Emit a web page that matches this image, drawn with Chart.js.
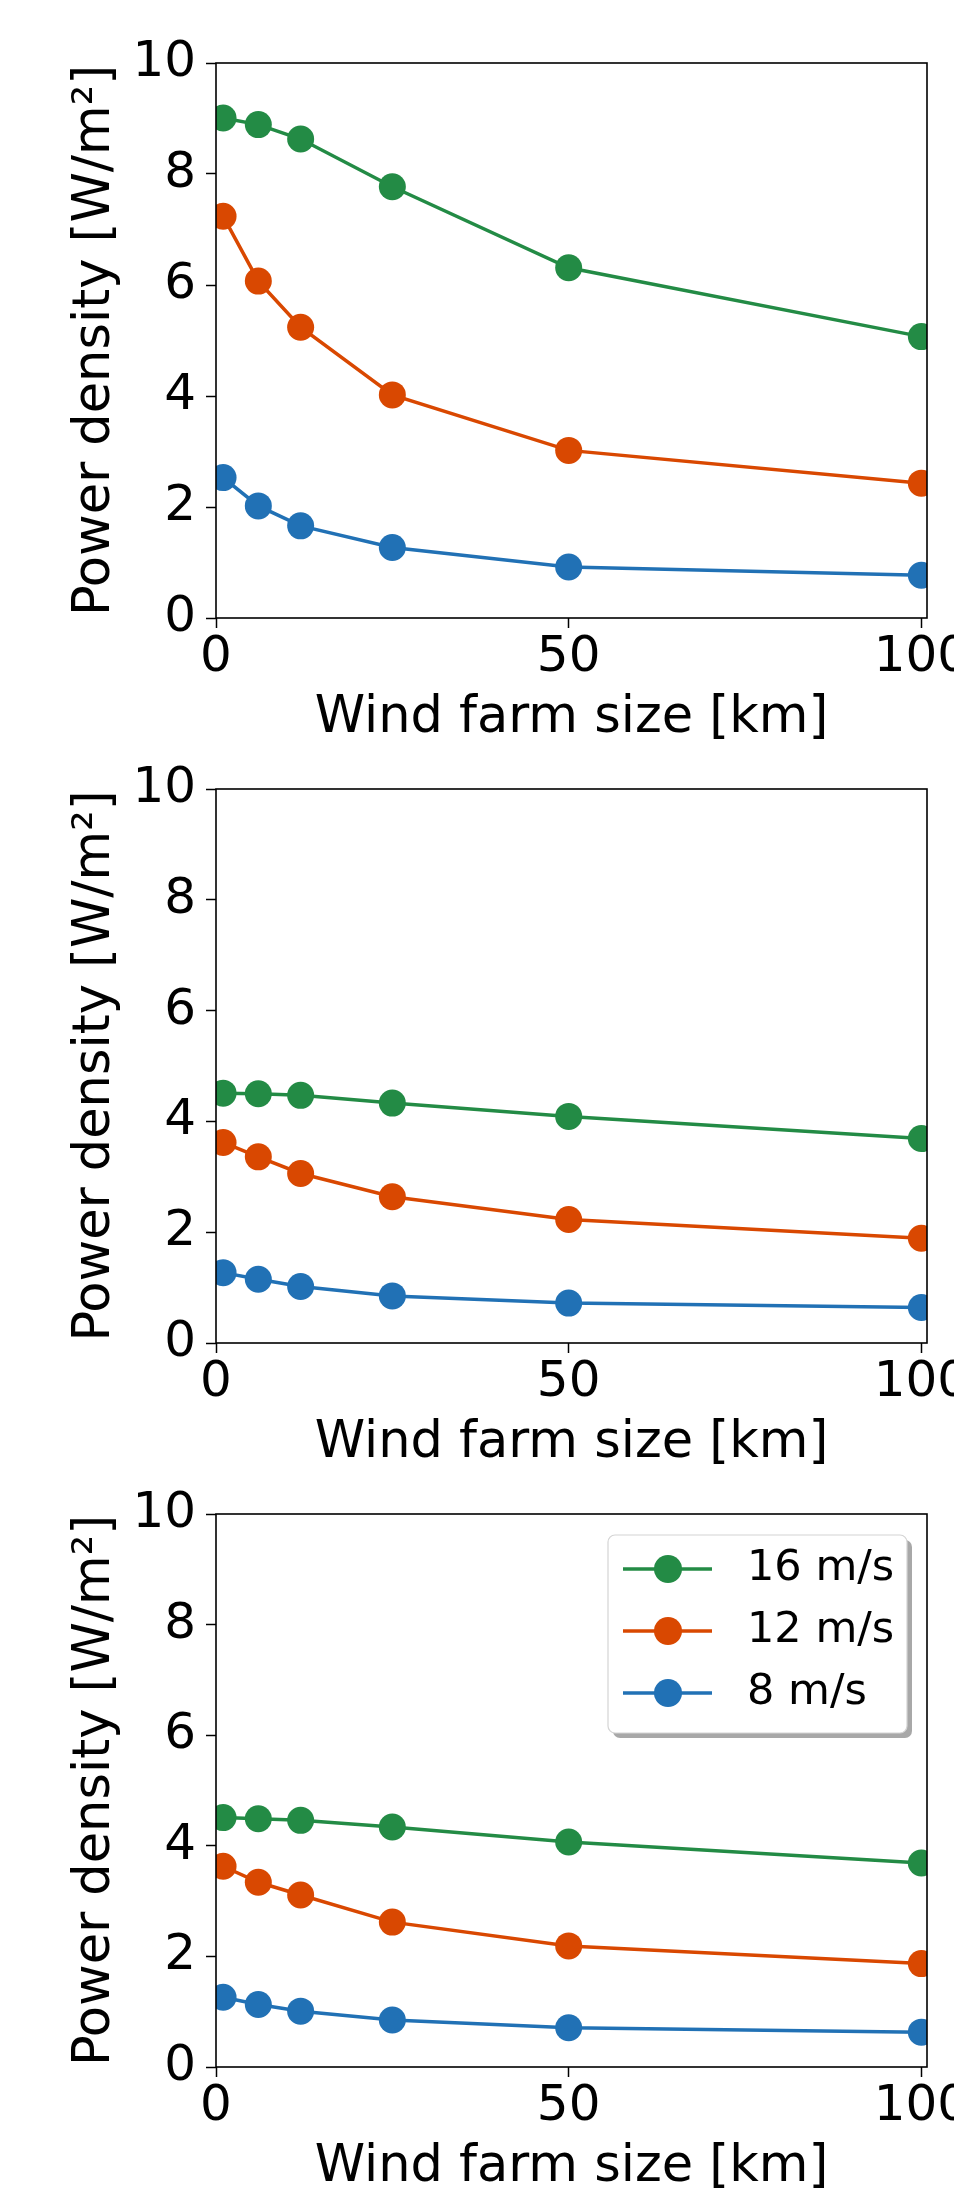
<!DOCTYPE html>
<html><head><meta charset="utf-8">
<script src="https://cdn.jsdelivr.net/npm/chart.js@4.4.0/dist/chart.umd.min.js"></script>
<style>
html,body{margin:0;padding:0;background:#fff;overflow:hidden;width:954px;height:2189px;position:relative;}
canvas{position:absolute;left:0;}
</style></head><body>
<canvas id="c1"></canvas><canvas id="c2"></canvas><canvas id="c3"></canvas>
<script>
// ---- data ----
const windFarmSize = [1, 6, 12, 25, 50, 100];
const seriesLabels = ['16 m/s', '12 m/s', '8 m/s'];
const seriesColors = ['#238b45', '#d94801', '#2171b5'];

const panel1_16 = [9.01, 8.89, 8.63, 7.77, 6.31, 5.07];
const panel1_12 = [7.24, 6.07, 5.24, 4.02, 3.02, 2.43];
const panel1_8  = [2.53, 2.02, 1.66, 1.27, 0.92, 0.77];

const panel2_16 = [4.51, 4.50, 4.47, 4.33, 4.09, 3.69];
const panel2_12 = [3.62, 3.36, 3.06, 2.64, 2.23, 1.89];
const panel2_8  = [1.27, 1.15, 1.02, 0.85, 0.72, 0.64];

const panel3_16 = [4.51, 4.49, 4.46, 4.34, 4.07, 3.69];
const panel3_12 = [3.63, 3.34, 3.11, 2.62, 2.19, 1.87];
const panel3_8  = [1.26, 1.13, 1.01, 0.85, 0.71, 0.63];

const xTicks = [0, 50, 100];
const yTicks = [0, 2, 4, 6, 8, 10];
const xAxisLabel = 'Wind farm size [km]';
const yAxisLabel = 'Power density [W/m\u00B2]';

// ---- layout ----
const FONT = 'DejaVu Sans';
const CANVAS_W = 1000;
const PAD_TOP = 63;
const X_AXIS_H = 142;
const Y_AXIS_W = 216;

const panels = [
  { id: 'c1', top: 0,    plotH: 555, series: [panel1_16, panel1_12, panel1_8], legend: false },
  { id: 'c2', top: 726,  plotH: 554, series: [panel2_16, panel2_12, panel2_8], legend: false },
  { id: 'c3', top: 1451, plotH: 553, series: [panel3_16, panel3_12, panel3_8], legend: true }
];

const framePlugin = {
  id: 'frame',
  afterDatasetsDraw(chart) {
    const { ctx, chartArea: a } = chart;
    ctx.save();
    ctx.strokeStyle = '#000';
    ctx.lineWidth = 1.6;
    ctx.strokeRect(a.left, a.top, a.right - a.left, a.bottom - a.top);
    ctx.restore();
  }
};

function roundRectPath(ctx, x, y, w, h, r) {
  ctx.beginPath();
  ctx.moveTo(x + r, y);
  ctx.lineTo(x + w - r, y);
  ctx.arcTo(x + w, y, x + w, y + r, r);
  ctx.lineTo(x + w, y + h - r);
  ctx.arcTo(x + w, y + h, x + w - r, y + h, r);
  ctx.lineTo(x + r, y + h);
  ctx.arcTo(x, y + h, x, y + h - r, r);
  ctx.lineTo(x, y + r);
  ctx.arcTo(x, y, x + r, y, r);
  ctx.closePath();
}

const boxLegendPlugin = {
  id: 'boxLegend',
  afterDraw(chart, args, opts) {
    if (!opts || !opts.show) return;
    const { ctx, chartArea: a } = chart;
    const w = 299, h = 198;
    const x = a.right - 20 - w, y = a.top + 21;
    ctx.save();
    // shadow
    ctx.fillStyle = 'rgba(110,110,110,0.6)';
    roundRectPath(ctx, x + 5, y + 5, w, h, 7);
    ctx.fill();
    // box
    ctx.fillStyle = '#fff';
    roundRectPath(ctx, x, y, w, h, 7);
    ctx.fill();
    ctx.strokeStyle = '#d4d4d4';
    ctx.lineWidth = 1.2;
    ctx.stroke();
    chart.data.datasets.forEach((ds, i) => {
      const cy = y + 34 + i * 62;
      ctx.strokeStyle = ds.borderColor;
      ctx.lineWidth = 3.5;
      ctx.beginPath();
      ctx.moveTo(x + 15, cy);
      ctx.lineTo(x + 104, cy);
      ctx.stroke();
      ctx.fillStyle = ds.backgroundColor;
      ctx.beginPath();
      ctx.arc(x + 60, cy, 14, 0, Math.PI * 2);
      ctx.fill();
      ctx.fillStyle = '#000';
      ctx.font = '43px "' + FONT + '"';
      ctx.textAlign = 'left';
      ctx.textBaseline = 'middle';
      ctx.fillText(ds.label, x + 139, cy);
    });
    ctx.restore();
  }
};

panels.forEach(p => {
  const cv = document.getElementById(p.id);
  const H = PAD_TOP + p.plotH + X_AXIS_H;
  cv.width = CANVAS_W; cv.height = H;
  cv.style.width = CANVAS_W + 'px'; cv.style.height = H + 'px';
  cv.style.top = p.top + 'px';

  const datasets = p.series.map((vals, i) => ({
    label: seriesLabels[i],
    data: windFarmSize.map((x, j) => ({ x: x, y: vals[j] })),
    borderColor: seriesColors[i],
    backgroundColor: seriesColors[i],
    pointBackgroundColor: seriesColors[i],
    pointBorderColor: seriesColors[i],
    pointBorderWidth: 0,
    pointRadius: 13.5,
    pointHoverRadius: 13.5,
    borderWidth: 3.5,
    tension: 0,
    fill: false,
    clip: 0
  }));

  new Chart(cv, {
    type: 'line',
    data: { datasets },
    plugins: [framePlugin, boxLegendPlugin],
    options: {
      responsive: false,
      animation: false,
      devicePixelRatio: 1,
      events: [],
      layout: { padding: { top: PAD_TOP, left: 0, right: CANVAS_W - 927, bottom: 0 } },
      plugins: {
        legend: { display: false },
        tooltip: { enabled: false },
        boxLegend: { show: p.legend }
      },
      scales: {
        x: {
          type: 'linear',
          min: 0, max: 100.8,
          afterBuildTicks: s => { s.ticks = xTicks.map(v => ({ value: v })); },
          afterFit: s => { s.height = X_AXIS_H; },
          border: { display: false },
          grid: { display: true, drawOnChartArea: false, drawTicks: true, tickLength: 10, tickColor: '#000', tickWidth: 1.5 },
          ticks: { color: '#000', font: { family: FONT, size: 50 }, padding: 0, maxRotation: 0 },
          title: { display: true, text: xAxisLabel, color: '#000', font: { family: FONT, size: 51 }, padding: { top: 0, bottom: 10.5 } }
        },
        y: {
          type: 'linear',
          min: 0, max: 10,
          afterBuildTicks: s => { s.ticks = yTicks.map(v => ({ value: v })); },
          afterFit: s => { s.width = Y_AXIS_W; },
          border: { display: false },
          grid: { display: true, drawOnChartArea: false, drawTicks: true, tickLength: 10, tickColor: '#000', tickWidth: 1.5 },
          ticks: { color: '#000', font: { family: FONT, size: 50 }, padding: 10 },
          title: { display: true, text: yAxisLabel, color: '#000', font: { family: FONT, size: 51 }, padding: { top: 65, bottom: 0 } }
        }
      }
    }
  });
});
</script>
</body></html>
